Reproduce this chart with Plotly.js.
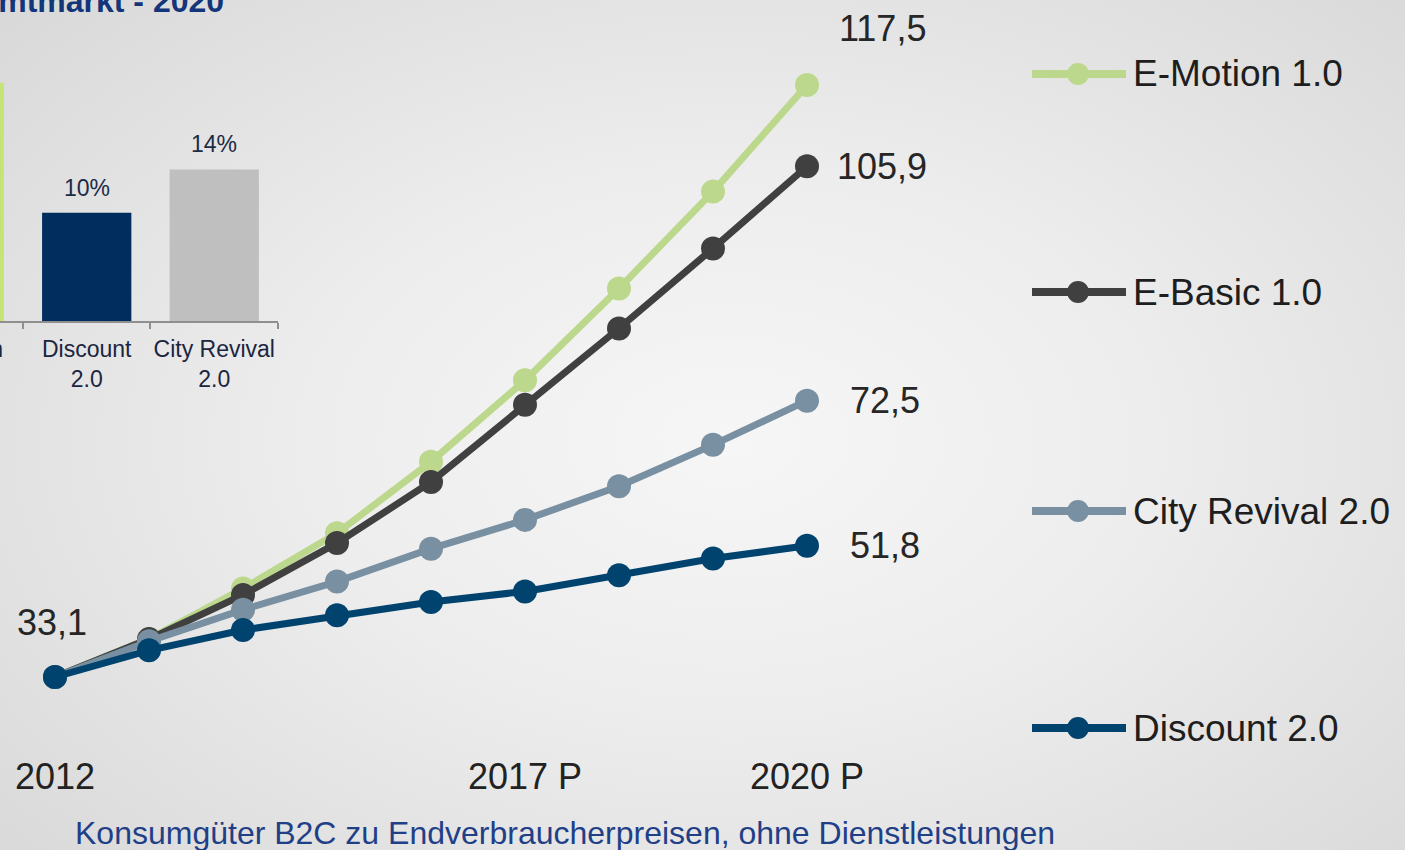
<!DOCTYPE html>
<html>
<head>
<meta charset="utf-8">
<script src="https://cdn.plot.ly/plotly-3.0.1.min.js"></script>
<style>
html,body{margin:0;padding:0;width:1405px;height:850px;overflow:hidden;
background:radial-gradient(ellipse 75% 80% at 52% 52%, #f6f6f6 0%, #ededed 40%, #dedede 80%, #d6d6d6 100%);}
#chart{width:1405px;height:850px;}
</style>
</head>
<body>
<div id="chart"></div>
<script>
// ---- data ----
const years = [2012, 2013, 2014, 2015, 2016, 2017, 2018, 2019, 2020];
const tickYears = [2012, 2017, 2020];
const tickLabels = ["2012", "2017 P", "2020 P"];
const seriesNames = ["E-Motion 1.0", "E-Basic 1.0", "City Revival 2.0", "Discount 2.0"];
const eMotion = [33.1, 38.5, 45.7, 53.6, 63.8, 75.4, 88.5, 102.3, 117.5];
const eBasic = [33.1, 38.5, 44.8, 52.2, 60.9, 71.9, 82.8, 94.2, 105.9];
const cityRevival = [33.1, 38.2, 42.7, 46.7, 51.4, 55.5, 60.3, 66.2, 72.5];
const discount = [33.1, 36.9, 39.8, 41.9, 43.8, 45.3, 47.6, 50.0, 51.8];
const shareCategories = ["E-Motion 1.0", "Discount<br>2.0", "City Revival<br>2.0"];
const shareValues = [22, 10, 14];
const shareLabels = ["22%", "10%", "14%"];

// ---- styles ----
const W = 1405, H = 850;
const lineColors = ["#bcd88c", "#404040", "#7890a2", "#00436f"];
const barColors = ["#c6e377", "#002d5e", "#bfbfbf"];
const allSeries = [eMotion, eBasic, cityRevival, discount];
const textFont = "Liberation Sans, Arial, sans-serif";
const px = v => v / W;
const py = v => (H - v) / H;
const fmt = v => v.toFixed(1).replace('.', ',');

const traces = allSeries.map((s, i) => ({
  type: 'scatter', mode: 'lines+markers', x: years, y: s, name: seriesNames[i],
  xaxis: 'x', yaxis: 'y', showlegend: false, hoverinfo: 'skip',
  line: {color: lineColors[i], width: 7},
  marker: {color: lineColors[i], size: 24}
}));

traces.push({
  type: 'bar', x: shareCategories, y: shareValues, xaxis: 'x2', yaxis: 'y2',
  marker: {color: barColors}, showlegend: false, hoverinfo: 'skip'
});

const annotations = [];
// bar value labels
shareCategories.forEach((c, i) => {
  if (i === 0) return; // its label lies outside the visible crop
  annotations.push({xref: 'x2', yref: 'y2', x: c, y: shareValues[i], text: shareLabels[i],
    showarrow: false, yanchor: 'middle', yshift: 25, font: {family: textFont, size: 23, color: '#1b2a45'}});
});
// first value label
annotations.push({xref: 'x', yref: 'y', x: years[0], y: eMotion[0], text: fmt(eMotion[0]),
  showarrow: false, yshift: 55, xshift: -3, font: {family: textFont, size: 36, color: '#262626'}});
// end labels
const endShift = [[75, 57], [75, 0], [78, 0], [78, 0]];
allSeries.forEach((s, i) => {
  annotations.push({xref: 'x', yref: 'y', x: years[years.length - 1], y: s[s.length - 1],
    text: fmt(s[s.length - 1]), showarrow: false, xshift: endShift[i][0], yshift: endShift[i][1],
    font: {family: textFont, size: 36, color: '#262626'}});
});
// custom legend
const legY = [74, 292, 511, 728];
const shapes = [];
seriesNames.forEach((n, i) => {
  shapes.push({type: 'line', xref: 'paper', yref: 'paper', x0: px(1032), x1: px(1126), y0: py(legY[i]), y1: py(legY[i]),
    line: {color: lineColors[i], width: 8}});
  shapes.push({type: 'circle', xref: 'paper', yref: 'paper', x0: px(1067), x1: px(1089), y0: py(legY[i] - 11), y1: py(legY[i] + 11),
    fillcolor: lineColors[i], line: {width: 0}});
  annotations.push({xref: 'paper', yref: 'paper', x: px(1131), y: py(legY[i]), xanchor: 'left', yanchor: 'middle',
    text: n, showarrow: false, font: {family: textFont, size: 37, color: '#1e1e1e'}});
});
// cut-off category label of the inset
annotations.push({xref: 'paper', yref: 'paper', x: px(-43), y: py(364), xanchor: 'center', yanchor: 'middle',
  text: 'E-Motion<br>1.0', showarrow: false, font: {family: textFont, size: 23, color: '#1b2540'}});
// cut-off title
annotations.push({xref: 'paper', yref: 'paper', x: px(226), y: py(21), xanchor: 'right', yanchor: 'bottom',
  text: '<b>Anteil am Gesamtmarkt - 2020</b>', showarrow: false, font: {family: textFont, size: 32, color: '#13357a'}});
// subtitle
annotations.push({xref: 'paper', yref: 'paper', x: px(565), y: py(833), xanchor: 'center', yanchor: 'middle',
  text: 'Konsumgüter B2C zu Endverbraucherpreisen, ohne Dienstleistungen', showarrow: false,
  font: {family: textFont, size: 32, color: '#1f3f87'}});

// line chart scale: 2012 at px 55, 2020 at px 807; 33.1 at py 677, 117.5 at py 85
const xPerPx = (2020 - 2012) / (807 - 55);
const vPerPx = (117.5 - 33.1) / (677 - 85);
const plotBottom = 752;
const layout = {
  width: W, height: H,
  margin: {l: 0, r: 0, t: 0, b: 0, pad: 0},
  paper_bgcolor: 'rgba(0,0,0,0)', plot_bgcolor: 'rgba(0,0,0,0)',
  showlegend: false,
  xaxis: {domain: [0, px(1000)], range: [2012 - 55 * xPerPx, 2012 + 945 * xPerPx],
    tickvals: tickYears, ticktext: tickLabels, showgrid: false, zeroline: false, showline: false,
    ticks: '', tickfont: {family: textFont, size: 36, color: '#222222'}},
  yaxis: {domain: [py(plotBottom), 1], range: [33.1 - (plotBottom - 677) * vPerPx, 33.1 + 677 * vPerPx],
    showgrid: false, zeroline: false, showline: false, showticklabels: false, ticks: ''},
  xaxis2: {domain: [0, px(278)], anchor: 'y2', range: [0.32, 2.5], type: 'category',
    showline: true, linecolor: '#8f8f8f', linewidth: 2, ticks: 'outside', tickson: 'boundaries',
    ticklen: 6, tickcolor: '#8f8f8f', tickwidth: 2, showgrid: false, tickangle: 0, ticklabelstandoff: 6,
    tickfont: {family: textFont, size: 23, color: '#1b2540'}},
  yaxis2: {domain: [py(321), py(60)], anchor: 'x2', range: [0, (321 - 60) / 10.83],
    showgrid: false, zeroline: false, showline: false, showticklabels: false, ticks: ''},
  bargap: 0.3,
  annotations: annotations,
  shapes: shapes
};

Plotly.newPlot('chart', traces, layout, {staticPlot: true, displayModeBar: false});
</script>
</body>
</html>
